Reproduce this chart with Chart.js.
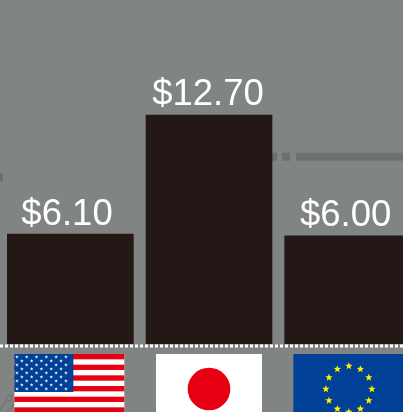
<!DOCTYPE html>
<html><head><meta charset="utf-8">
<style>html,body{margin:0;padding:0;width:403px;height:412px;overflow:hidden;background:#808483}canvas{display:block}</style>
<script src="https://cdn.jsdelivr.net/npm/chart.js@4"></script>
</head><body>
<canvas id="c" width="417" height="412" style="width:417px;height:412px"></canvas>
<script>
const categories = ['United States', 'Japan', 'Euro area'];
const prices = [6.10, 12.70, 6.00];
const priceLabels = ['$6.10', '$12.70', '$6.00'];
// faded dashed line lying behind the bars
const dashX = [0, 3, null, 272, 277, null, 282, 290, null, 296, 417];
const dashY = [9.25, 9.25, null, 10.38, 10.38, null, 10.38, 10.38, null, 10.38, 10.38];
// dotted baseline under the bars
const baseX = [0, 417];
const baseY = [-0.11, -0.11];

const RED = '#e60012', WHITE = '#ffffff', BLUE = '#004097', YEL = '#fff100';
const labelNudgeX = [-3.3, -1, -2];
const labelGap = [9, 10.5, 9.8];

function star(ctx, cx, cy, r, col) {
  ctx.fillStyle = col;
  ctx.beginPath();
  for (let i = 0; i < 10; i++) {
    const a = -Math.PI / 2 + i * Math.PI / 5, q = i % 2 ? r * 0.42 : r;
    ctx[i ? 'lineTo' : 'moveTo'](cx + q * Math.cos(a), cy + q * Math.sin(a));
  }
  ctx.closePath(); ctx.fill();
}
function flagUS(ctx, cx, top) {
  const L = cx - 55, W = 110, h = 16 / 3;
  ctx.fillStyle = WHITE; ctx.fillRect(L, top, W, 70);
  ctx.fillStyle = RED;
  for (let i = 0; i < 13; i += 2) ctx.fillRect(L, top + i * h, W, h);
  ctx.fillStyle = BLUE; ctx.fillRect(L, top, 59, 38);
  for (let r = 0; r < 9; r++) {
    const n = r % 2 ? 5 : 6, off = r % 2 ? 7.5 : 2.6;
    for (let c = 0; c < n; c++) star(ctx, L + off + c * 9.8, top + 3 + r * 4, 1.9, '#e8edf5');
  }
}
function flagJP(ctx, cx, top) {
  ctx.fillStyle = WHITE; ctx.fillRect(cx - 53, top, 106, 70);
  ctx.fillStyle = RED; ctx.beginPath(); ctx.arc(cx, top + 35, 21.3, 0, Math.PI * 2); ctx.fill();
}
function flagEU(ctx, cx, top) {
  ctx.fillStyle = BLUE; ctx.fillRect(cx - 55, top, 120, 70);
  for (let i = 0; i < 12; i++) {
    const a = i * Math.PI / 6;
    star(ctx, cx + 0.5 + 23 * Math.sin(a), top + 35 - 23 * Math.cos(a), 3.9, YEL);
  }
}
const flagsPlugin = {
  id: 'flags',
  afterDraw(chart) {
    const { ctx, scales: { x, y } } = chart;
    const top = y.getPixelForValue(0) + 10;
    ctx.save();
    // small faded ornament at lower left
    ctx.strokeStyle = '#6e7070'; ctx.lineWidth = 1;
    ctx.beginPath(); ctx.arc(9, top + 44, 3, 0, Math.PI * 2);
    ctx.moveTo(0, top + 56); ctx.lineTo(7, top + 46);
    ctx.moveTo(11, top + 42); ctx.lineTo(14, top + 39);
    ctx.moveTo(7, top + 58); ctx.lineTo(14, top + 50);
    ctx.stroke();
    flagUS(ctx, x.getPixelForValue(0) - 1, top);
    flagJP(ctx, x.getPixelForValue(1), top);
    flagEU(ctx, x.getPixelForValue(2) + 0.7, top);
    ctx.restore();
  }
};
const labelsPlugin = {
  id: 'priceLabels',
  afterDatasetsDraw(chart) {
    const { ctx } = chart, meta = chart.getDatasetMeta(1);
    ctx.save();
    ctx.fillStyle = '#ffffff';
    ctx.font = '36.5px "Liberation Sans", Arial, sans-serif';
    ctx.textAlign = 'center'; ctx.textBaseline = 'alphabetic';
    meta.data.forEach((b, i) => ctx.fillText(priceLabels[i], b.x + labelNudgeX[i], b.y - labelGap[i]));
    ctx.restore();
  }
};
new Chart(document.getElementById('c'), {
  data: {
    labels: categories,
    datasets: [
      { type: 'line', xAxisID: 'x2', data: dashX.map((v, i) => ({ x: v, y: dashY[i] })),
        borderColor: '#6e7070', borderWidth: 8, pointRadius: 0, spanGaps: false,
        borderCapStyle: 'butt', clip: false, order: 2 },
      { type: 'bar', data: prices, backgroundColor: '#231815', borderWidth: 0,
        barThickness: 126, grouped: false, order: 1 },
      { type: 'line', xAxisID: 'x2', data: baseX.map((v, i) => ({ x: v, y: baseY[i] })),
        borderColor: '#ffffff', borderWidth: 3, borderDash: [3, 2], pointRadius: 0,
        borderCapStyle: 'butt', clip: false, order: 0 }
    ]
  },
  options: {
    responsive: false, animation: false, events: [],
    layout: { padding: { left: 1, right: 0, top: 0, bottom: 68 } },
    plugins: { legend: { display: false }, tooltip: { enabled: false } },
    scales: {
      x: { grid: { display: false, drawTicks: false }, ticks: { display: false },
           border: { display: false } },
      x2: { type: 'linear', display: false, min: 1, max: 417 },
      y: { display: false, min: 0, max: 19.08 }
    }
  },
  plugins: [labelsPlugin, flagsPlugin]
});
</script>
</body></html>
